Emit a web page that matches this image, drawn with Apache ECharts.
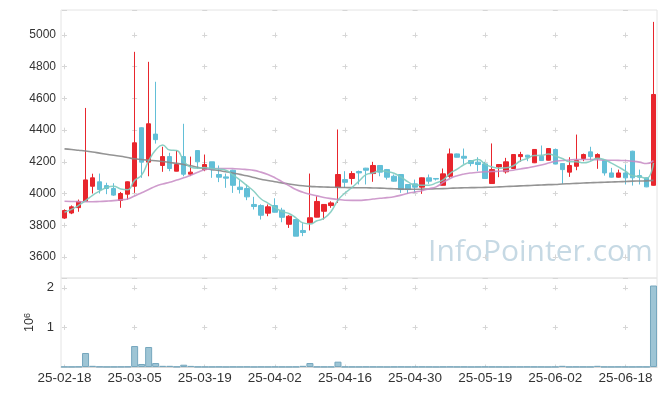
<!DOCTYPE html>
<html><head><meta charset="utf-8">
<script src="https://cdn.jsdelivr.net/npm/echarts@6/dist/echarts.min.js"></script>
<style>html,body{margin:0;padding:0;background:#fff}#c{width:665px;height:396px}</style>
</head><body><div id="c"></div>
<script>
const dates = ['25-02-18','25-02-19','25-02-20','25-02-21','25-02-24','25-02-25','25-02-26','25-02-27','25-02-28','25-03-04',
'25-03-05','25-03-06','25-03-07','25-03-10','25-03-11','25-03-12','25-03-13','25-03-14','25-03-17','25-03-18',
'25-03-19','25-03-20','25-03-21','25-03-24','25-03-25','25-03-26','25-03-27','25-03-28','25-03-31','25-04-01',
'25-04-02','25-04-03','25-04-04','25-04-07','25-04-08','25-04-09','25-04-10','25-04-11','25-04-14','25-04-15',
'25-04-16','25-04-17','25-04-18','25-04-21','25-04-22','25-04-23','25-04-24','25-04-25','25-04-28','25-04-29',
'25-04-30','25-05-02','25-05-07','25-05-08','25-05-09','25-05-12','25-05-13','25-05-14','25-05-15','25-05-16',
'25-05-19','25-05-20','25-05-21','25-05-22','25-05-23','25-05-26','25-05-27','25-05-28','25-05-29','25-05-30',
'25-06-02','25-06-04','25-06-05','25-06-09','25-06-10','25-06-11','25-06-12','25-06-13','25-06-16','25-06-17',
'25-06-18','25-06-19','25-06-20','25-06-23','25-06-24'];

const opens = [3845,3877,3911,3952,4046,4074,4050,4032,3956,3996,
4046,4415,4198,4375,4177,4233,4141,4233,4122,4271,
4151,4200,4120,4105,4147,4040,4032,3931,3924,3876,
3924,3895,3806,3836,3767,3815,3851,3888,3924,4040,
4088,4095,4139,4160,4126,4177,4151,4109,4120,4057,
4061,4040,4099,4095,4052,4109,4250,4235,4208,4198,
4187,4063,4168,4137,4158,4233,4242,4194,4235,4210,
4278,4189,4135,4172,4221,4263,4221,4208,4130,4103,
4130,4267,4113,4099,4052];
const closes = [3893,3916,3950,4086,4099,4025,4032,3990,4000,4074,
4320,4198,4440,4340,4233,4158,4183,4122,4135,4200,
4183,4151,4103,4097,4052,4025,3979,3918,3863,3916,
3882,3850,3857,3731,3754,3847,3950,3931,3941,4120,
4071,4126,4130,4147,4177,4135,4103,4078,4025,4025,
4040,4099,4078,4091,4124,4250,4229,4223,4189,4183,
4095,4151,4183,4200,4246,4246,4229,4278,4208,4284,
4186,4151,4177,4208,4246,4233,4246,4130,4103,4130,
4099,4099,4103,4042,4625];
const lows = [3840,3870,3885,3950,4000,4000,3996,3985,3910,3962,
4004,4099,4109,4315,4137,4141,4140,4109,4110,4156,
4141,4099,4072,4036,4004,4000,3958,3899,3836,3857,
3880,3819,3783,3731,3731,3767,3850,3836,3910,3941,
4036,4057,4057,4057,4074,4109,4088,4075,4004,3998,
4004,3998,4061,4082,4050,4099,4228,4187,4172,4141,
4093,4063,4103,4126,4156,4200,4204,4192,4206,4208,
4185,4061,4105,4147,4204,4208,4156,4113,4101,4101,
4057,4050,4057,4040,4050];
const highs = [3900,3925,3962,4540,4125,4126,4068,4065,4010,4076,
4894,4418,4831,4705,4295,4257,4271,4440,4233,4272,
4246,4200,4177,4126,4150,4084,4057,3979,3932,3931,
3970,3910,3863,3838,3813,4126,3983,3933,3951,4404,
4141,4141,4145,4162,4200,4180,4155,4120,4122,4060,
4088,4101,4120,4097,4158,4284,4252,4284,4210,4229,
4200,4316,4185,4225,4248,4263,4244,4280,4303,4286,
4284,4190,4229,4372,4252,4295,4254,4210,4162,4151,
4183,4270,4151,4101,5083];

const ma5 = [3882,3900,3925,3955,3989,4015,4038,4046,4029,4024,
4083,4116,4206,4274,4306,4274,4271,4207,4166,4160,
4165,4158,4154,4147,4117,4086,4051,4014,3967,3940,
3912,3886,3874,3847,3815,3808,3828,3843,3885,3958,
4003,4038,4078,4119,4130,4143,4138,4128,4104,4073,
4054,4053,4053,4067,4086,4128,4154,4183,4203,4215,
4184,4168,4160,4162,4175,4205,4221,4240,4241,4249,
4237,4221,4201,4201,4194,4203,4222,4213,4192,4168,
4142,4112,4107,4095,4194];
const ma20 = [3951,3950,3949,3948,3948,3950,3952,3955,3960,3966,
3985,4005,4025,4046,4060,4071,4085,4099,4115,4135,
4150,4156,4158,4158,4157,4155,4151,4146,4135,4120,
4100,4075,4050,4025,4008,3995,3985,3975,3968,3963,
3958,3957,3957,3960,3965,3970,3974,3980,3990,4002,
4010,4018,4030,4042,4070,4095,4112,4123,4130,4134,
4137,4139,4141,4143,4147,4155,4162,4170,4180,4192,
4204,4208,4212,4214,4215,4215,4213,4211,4210,4209,
4208,4204,4198,4189,4208];
const ma60 = [4282,4278,4273,4268,4262,4255,4248,4241,4235,4227,
4219,4215,4210,4207,4202,4196,4190,4183,4175,4165,
4158,4151,4145,4137,4130,4121,4112,4101,4090,4082,
4074,4067,4060,4054,4049,4045,4043,4041,4040,4039,
4038,4037,4036,4036,4035,4034,4032,4030,4028,4027,
4027,4028,4029,4030,4031,4033,4035,4036,4037,4038,
4039,4040,4042,4044,4046,4048,4050,4052,4054,4056,
4057,4060,4062,4064,4066,4068,4070,4071,4073,4074,
4076,4078,4079,4080,4083];

const volumes = [6000,5000,8000,354000,30000,9000,4000,5000,7000,9000,
530000,76000,506000,100000,30000,30000,8000,58000,28000,6000,
5000,4000,6000,3000,5000,4000,6000,3000,5000,4000,
6000,5000,4000,6000,30000,100000,7000,5000,6000,135000,
6000,5000,4000,6000,5000,4000,3000,5000,6000,4000,
5000,6000,4000,3000,5000,7000,4000,5000,3000,4000,
6000,5000,4000,3000,5000,4000,6000,5000,4000,3000,
5000,30000,4000,6000,5000,4000,30000,5000,4000,6000,
5000,4000,6000,5000,2060000];

const yMin = 3467, yMax = 5158, yStep = 200;
const volMax = 2250000, volStep = 1000000;
const G = {left: 61, width: 596, top: 10, mainH: 268, volH: 89};
const band = G.width / dates.length, labStep = band * 10;
const crossColor = '#d6d6d6';
const hSplit = {type: [5, labStep - 5], dashOffset: labStep - (band / 2 - 2.5), color: crossColor, width: 1};
const mainTickPx = G.mainH * yStep / (yMax - yMin);
const mainFirst = (yMax - 5000) / (yMax - yMin) * G.mainH;
const vSplitMain = {type: [5, mainTickPx - 5], dashOffset: mainTickPx - (mainFirst - 2.5), color: crossColor, width: 1};
const volTickPx = G.volH * volStep / volMax;
const volFirst = (volMax - 2 * volStep) / volMax * G.volH;
const vSplitVol = {type: [5, volTickPx - 5], dashOffset: volTickPx - (volFirst - 2.5), color: crossColor, width: 1};

const candle = dates.map((d, i) => [opens[i], closes[i], lows[i], highs[i]]);
const FONT = 'Liberation Sans';

const chart = echarts.init(document.getElementById('c'), null, {renderer: 'canvas'});
chart.setOption({
  animation: false,
  textStyle: {fontFamily: FONT},
  grid: [
    {left: G.left, top: G.top, width: G.width, height: G.mainH, show: true, borderColor: '#e4e4e4', borderWidth: 1},
    {left: G.left, top: G.top + G.mainH, width: G.width, height: G.volH, show: true, borderColor: '#e4e4e4', borderWidth: 1}
  ],
  xAxis: [
    {type: 'category', gridIndex: 0, data: dates, boundaryGap: true,
     axisLine: {show: false}, axisTick: {show: false}, axisLabel: {show: false},
     splitLine: {show: true, interval: 9, alignWithLabel: true, lineStyle: vSplitMain}},
    {type: 'category', gridIndex: 1, data: dates, boundaryGap: true,
     axisLine: {show: true, lineStyle: {color: '#d8d8d8'}}, axisTick: {show: false},
     axisLabel: {interval: 9, color: '#333', fontSize: 13.5, margin: 4, fontFamily: FONT},
     splitLine: {show: true, interval: 9, alignWithLabel: true, lineStyle: vSplitVol}}
  ],
  yAxis: [
    {type: 'value', gridIndex: 0, min: yMin, max: yMax, splitNumber: 8, scale: true,
     axisLine: {show: false}, axisTick: {show: false},
     axisLabel: {color: '#333', fontSize: 12, margin: 5, fontFamily: FONT,
       formatter: v => (Math.abs(v % yStep) < 1e-6 ? String(v) : '')},
     splitLine: {show: true, lineStyle: hSplit}},
    {type: 'value', gridIndex: 1, min: 0, max: volMax, interval: volStep,
     axisLine: {show: false}, axisTick: {show: false},
     axisLabel: {color: '#333', fontSize: 13, margin: 7, fontFamily: FONT, showMinLabel: false,
       formatter: v => (v > 0 && v % volStep === 0 ? String(v / volStep) : '')},
     splitLine: {show: true, lineStyle: hSplit},
     name: '{b|10}{s|6}', nameLocation: 'middle', nameRotate: 90, nameGap: 21,
     nameTextStyle: {rich: {b: {fontSize: 12.5, color: '#333', fontFamily: FONT}, s: {fontSize: 9, color: '#333', verticalAlign: 'top', fontFamily: FONT}}}}
  ],
  graphic: [{type: 'text', left: 428, top: 237, z: 0, silent: true,
    style: {text: 'InfoPointer.com', font: '30px "Open Sans"', fill: '#c6d9e4'}}],
  series: [
    {type: 'candlestick', xAxisIndex: 0, yAxisIndex: 0, data: candle, barWidth: 5,
     itemStyle: {color: '#e8262d', color0: '#62bfd7', borderColor: '#e8262d', borderColor0: '#62bfd7', borderWidth: 1}},
    {type: 'line', name: 'MA60', xAxisIndex: 0, yAxisIndex: 0, data: ma60, smooth: true, showSymbol: false,
     lineStyle: {color: '#888', width: 1.6, opacity: 0.9}},
    {type: 'line', name: 'MA20', xAxisIndex: 0, yAxisIndex: 0, data: ma20, smooth: true, showSymbol: false,
     lineStyle: {color: '#c78bc4', width: 1.6, opacity: 0.85}},
    {type: 'line', name: 'MA5', xAxisIndex: 0, yAxisIndex: 0, data: ma5, smooth: true, showSymbol: false,
     lineStyle: {color: '#80cbbf', width: 1.5, opacity: 0.9}},
    {type: 'bar', xAxisIndex: 1, yAxisIndex: 1, data: volumes, barWidth: '100%',
     itemStyle: {color: '#9ec5d5', borderColor: '#76a7be', borderWidth: 1}}
  ]
});
</script></body></html>
